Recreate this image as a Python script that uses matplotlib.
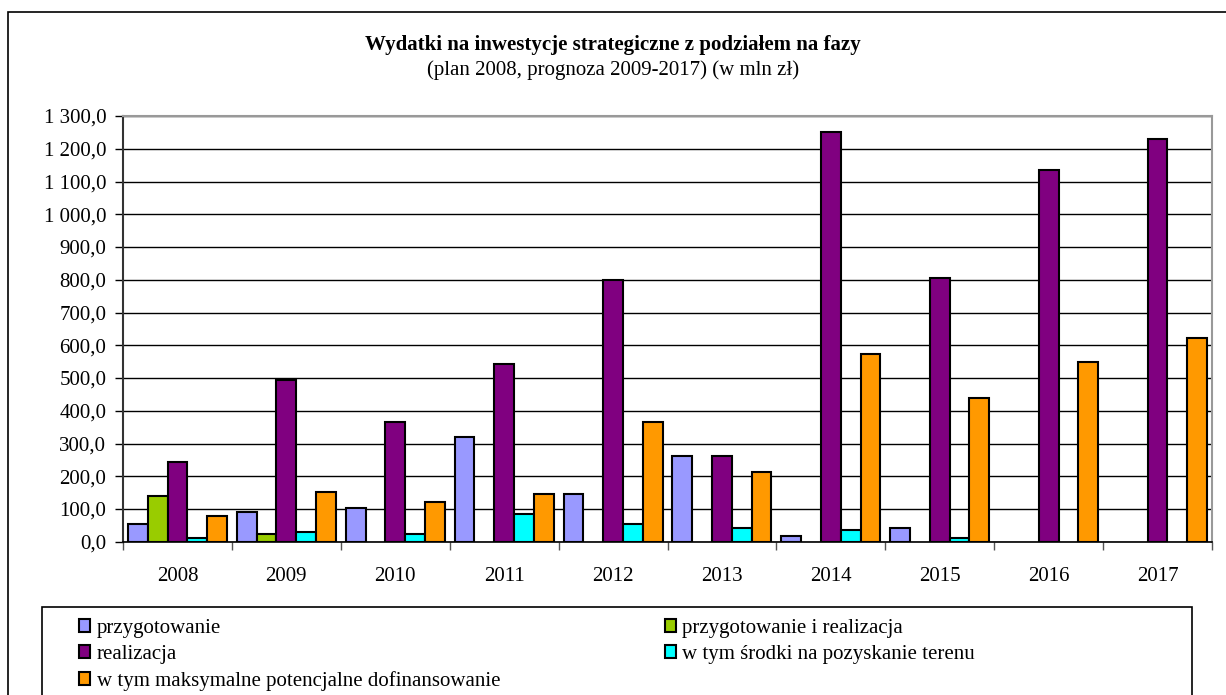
import numpy as np
import matplotlib.pyplot as plt
from matplotlib.patches import Rectangle, Patch
from matplotlib.ticker import FuncFormatter, MultipleLocator

plt.rcParams['font.family'] = ['Liberation Serif', 'DejaVu Serif']

# dane (mln zł)
lata = ['2008', '2009', '2010', '2011', '2012', '2013', '2014', '2015', '2016', '2017']
przygotowanie = [53, 90, 103, 321, 145, 261, 19, 43, 0, 0]
przyg_i_real = [140, 23, 0, 0, 0, 0, 0, 0, 0, 0]
realizacja = [244, 494, 366, 542, 798, 261, 1250, 804, 1135, 1231]
srodki_teren = [11, 29, 23, 84, 53, 41, 36, 12, 0, 0]
dofinansowanie = [79, 151, 121, 145, 365, 214, 573, 439, 549, 622]

nazwy = ['przygotowanie', 'przygotowanie i realizacja', 'realizacja',
         'w tym środki na pozyskanie terenu',
         'w tym maksymalne potencjalne dofinansowanie']
kolory = ['#9999FF', '#99CC00', '#800080', '#00FFFF', '#FF9900']
serie = [przygotowanie, przyg_i_real, realizacja, srodki_teren, dofinansowanie]

FS = 15
W, H = 1226, 695
fig = plt.figure(figsize=(W / 100, H / 100), dpi=100)

# ramka całego wykresu (prawa i dolna krawędź poza obrazkiem)
fig.patches.append(Rectangle((8 / W, -0.05), 0.05 + (W - 8) / W, 0.05 + (H - 12) / H,
                             transform=fig.transFigure, fill=False,
                             edgecolor='black', linewidth=1.2))

left, right, top, bottom = 123, 1212, 116, 541.8
ax = fig.add_axes([left / W, 1 - bottom / H, (right - left) / W, (bottom - top) / H])

x = np.arange(len(lata))
w = 1 / 5.5
for i, (vals, c, n) in enumerate(zip(serie, kolory, nazwy)):
    v = np.array(vals, dtype=float)
    mask = v > 0
    ax.bar(x[mask] + (i - 2) * w, v[mask], width=w, color=c,
           edgecolor='black', linewidth=1.5, label=n, zorder=3)

ax.set_xlim(-0.5, 9.5)
ax.set_ylim(0, 1300)
ax.yaxis.set_major_locator(MultipleLocator(100))
ax.yaxis.set_major_formatter(FuncFormatter(
    lambda v, p: f'{v:,.1f}'.replace(',', ' ').replace('.', ',')))
ax.grid(axis='y', color='black', linewidth=1.0, zorder=0)

ax.set_xticks(np.arange(-0.5, 10, 1))
ax.set_xticklabels([])
ax.set_xticks(x, minor=True)
ax.set_xticklabels(lata, minor=True)
ax.tick_params(axis='x', which='major', direction='out', length=6, width=1, color='#555555')
ax.tick_params(axis='x', which='minor', length=0, pad=18, labelsize=FS)
ax.tick_params(axis='y', direction='out', length=6, width=1, pad=6, labelsize=FS)

for s in ['top', 'right']:
    ax.spines[s].set_color('#999999')
    ax.spines[s].set_linewidth(1.5)
ax.spines['left'].set_color('#333333')
ax.spines['left'].set_linewidth(1.5)
ax.spines['bottom'].set_color('black')
ax.spines['bottom'].set_linewidth(1.2)

fig.text(613 / W, 1 - 45 / H, 'Wydatki na inwestycje strategiczne z podziałem na fazy',
         ha='center', va='center', fontsize=FS, fontweight='bold')
fig.text(613 / W, 1 - 70 / H, '(plan 2008, prognoza 2009-2017) (w mln zł)',
         ha='center', va='center', fontsize=FS)

# legenda w ramce
fig.patches.append(Rectangle((42 / W, -0.05), (1192 - 42) / W, 0.05 + (H - 607) / H,
                             transform=fig.transFigure, fill=False,
                             edgecolor='black', linewidth=1.2))
kolejnosc = [0, 2, 4, 1, 3]
uchwyty = [Patch(facecolor=kolory[k], edgecolor='black', linewidth=1.5) for k in kolejnosc]
fig.legend(uchwyty, [nazwy[k] for k in kolejnosc], ncol=2,
           loc='upper left', bbox_to_anchor=(79 / W, 1 - 619 / H),
           frameon=False, fontsize=FS, handlelength=0.55, handleheight=0.55,
           handletextpad=0.3, labelspacing=0.34, columnspacing=7.9,
           borderpad=0, borderaxespad=0)

fig.savefig('out.png', dpi=100)
